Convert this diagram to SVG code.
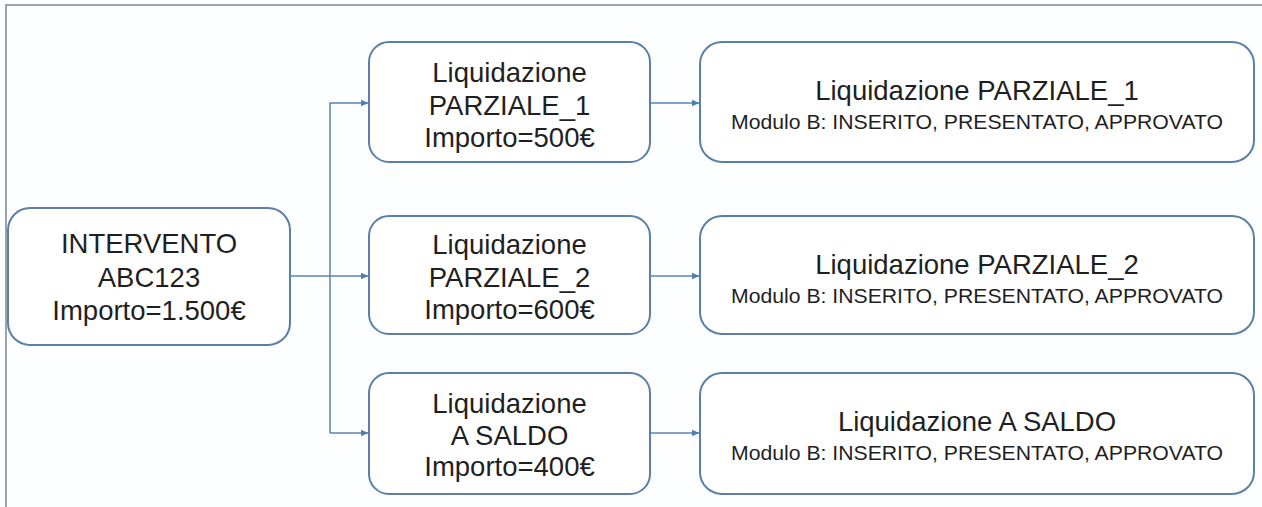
<svg xmlns="http://www.w3.org/2000/svg" width="1262" height="507" viewBox="0 0 1262 507">
<style>
.box{fill:#ffffff;stroke:#5b7fa8;stroke-width:2}
.t{font-family:"Liberation Sans",Arial,sans-serif;fill:#1f1f1f;text-anchor:middle}
.big{font-size:27.5px}
.sub{font-size:21px}
.conn{fill:none;stroke:#5a84b0;stroke-width:1.5}
.frame{fill:none;stroke:#9da3ab;stroke-width:2}
</style>
<defs>
<marker id="arr" markerWidth="8" markerHeight="8" refX="7" refY="4" orient="auto" markerUnits="userSpaceOnUse">
<path d="M0,0.8 L7.5,4 L0,7.2 Z" fill="#4f7fb0"/>
</marker>
</defs>
<rect x="0" y="0" width="1262" height="507" fill="#fdfeff"/>
<path class="frame" d="M6,507 L6,5 L1262,5"/>

<g id="connectors">
<path class="conn" d="M290,276 L368,276" marker-end="url(#arr)"/>
<path class="conn" d="M330,433 L330,103 L368,103" marker-end="url(#arr)"/>
<path class="conn" d="M330,433 L368,433" marker-end="url(#arr)"/>
<path class="conn" d="M650,103 L699,103" marker-end="url(#arr)"/>
<path class="conn" d="M650,276 L699,276" marker-end="url(#arr)"/>
<path class="conn" d="M650,433 L699,433" marker-end="url(#arr)"/>
</g>

<g id="intervento">
<rect class="box" x="8" y="208" width="282" height="137" rx="22"/>
<text class="t big" x="149" y="253">INTERVENTO</text>
<text class="t big" x="149" y="287">ABC123</text>
<text class="t big" x="149" y="320">Importo=1.500€</text>
</g>

<g id="liq-parziale-1">
<rect class="box" x="369" y="42" width="281" height="120" rx="20"/>
<text class="t big" x="509.5" y="82">Liquidazione</text>
<text class="t big" x="509.5" y="115">PARZIALE_1</text>
<text class="t big" x="509.5" y="147">Importo=500€</text>
</g>

<g id="liq-parziale-2">
<rect class="box" x="369" y="216" width="281" height="118" rx="20"/>
<text class="t big" x="509.5" y="254">Liquidazione</text>
<text class="t big" x="509.5" y="287">PARZIALE_2</text>
<text class="t big" x="509.5" y="319">Importo=600€</text>
</g>

<g id="liq-saldo">
<rect class="box" x="369" y="373" width="281" height="121" rx="20"/>
<text class="t big" x="509.5" y="413">Liquidazione</text>
<text class="t big" x="509.5" y="445">A SALDO</text>
<text class="t big" x="509.5" y="476">Importo=400€</text>
</g>

<g id="stato-parziale-1">
<rect class="box" x="700" y="42" width="554" height="120" rx="22"/>
<text class="t big" x="977" y="100">Liquidazione PARZIALE_1</text>
<text class="t sub" x="977" y="129" textLength="492" lengthAdjust="spacingAndGlyphs">Modulo B: INSERITO, PRESENTATO, APPROVATO</text>
</g>

<g id="stato-parziale-2">
<rect class="box" x="700" y="216" width="554" height="118" rx="22"/>
<text class="t big" x="977" y="274">Liquidazione PARZIALE_2</text>
<text class="t sub" x="977" y="303" textLength="492" lengthAdjust="spacingAndGlyphs">Modulo B: INSERITO, PRESENTATO, APPROVATO</text>
</g>

<g id="stato-saldo">
<rect class="box" x="700" y="373" width="554" height="121" rx="22"/>
<text class="t big" x="977" y="431">Liquidazione A SALDO</text>
<text class="t sub" x="977" y="460" textLength="492" lengthAdjust="spacingAndGlyphs">Modulo B: INSERITO, PRESENTATO, APPROVATO</text>
</g>
</svg>
